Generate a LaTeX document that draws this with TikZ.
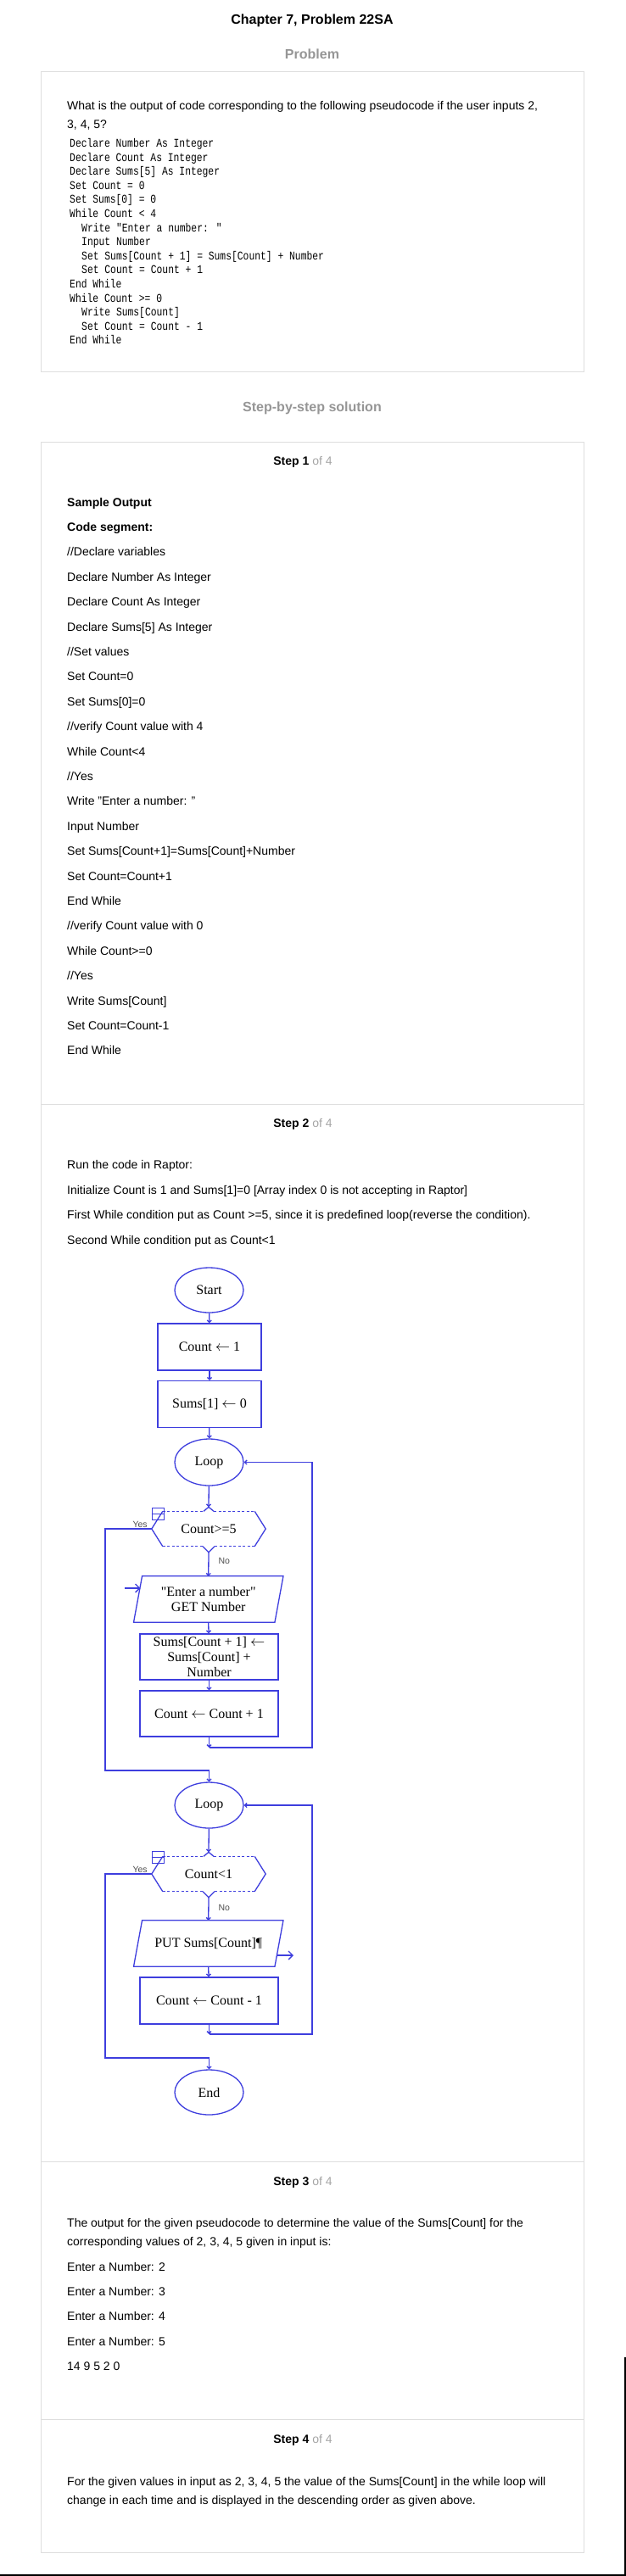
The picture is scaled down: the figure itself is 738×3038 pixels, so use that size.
\documentclass[tikz,border=0pt]{standalone}
\usepackage{fontspec}
\setmainfont{Liberation Sans}
\newfontfamily\codefont[FakeStretch=0.81]{Liberation Mono}
\newfontfamily\chartfont{Liberation Serif}
\usepackage{xcolor}
\usetikzlibrary{shapes.geometric,arrows.meta}
\definecolor{raptorblue}{RGB}{62,62,222}
\definecolor{framegray}{RGB}{222,222,222}
\definecolor{headgray}{RGB}{150,150,150}
\definecolor{ofgray}{RGB}{165,165,165}
\definecolor{labelgray}{RGB}{80,80,80}

\begin{document}
\begin{tikzpicture}[x=1pt,y=-1pt,
		txt/.style={anchor=base west,inner sep=0pt,font=\fontsize{14}{16}\selectfont},
		code/.style={anchor=base west,inner sep=0pt,font=\codefont\fontsize{14}{16}\selectfont},
		head/.style={anchor=base,inner sep=0pt,font=\bfseries\fontsize{16}{18}\selectfont},
		stephead/.style={anchor=base,inner sep=0pt,font=\fontsize{14}{16}\selectfont},
		term/.style={ellipse,draw=raptorblue,line width=1.3pt,minimum width=81pt,minimum height=53pt,inner sep=0pt,font=\chartfont\fontsize{16}{18}\selectfont},
		assign/.style={rectangle,draw=raptorblue,line width=1.3pt,minimum width=122pt,minimum height=55pt,inner sep=0pt,align=center,font=\chartfont\fontsize{16}{18}\selectfont},
		io/.style={rectangle,minimum width=166pt,minimum height=54pt,inner sep=0pt,align=center,font=\chartfont\fontsize{16}{18}\selectfont},
		test/.style={rectangle,minimum width=134pt,minimum height=41pt,inner sep=0pt,font=\chartfont\fontsize{16}{18}\selectfont},
		fold/.style={rectangle,draw=raptorblue,line width=1pt,minimum size=14pt,inner sep=0pt},
		yesno/.style={inner sep=1pt,text=labelgray,font=\fontsize{10.5}{12}\selectfont},
		flow/.style={draw=raptorblue,line width=1.3pt},
		flowdash/.style={draw=raptorblue,line width=0.9pt,dash pattern=on 3pt off 2.5pt},
		link/.style={flow,-{Straight Barb[length=2.5pt,width=5pt]}},
		bigarrow/.style={flow,-{Straight Barb[length=5pt,width=10pt]}},
		frame/.style={draw=framegray,line width=1pt}]
	\useasboundingbox (0,0) rectangle (738,3038);
	\fill[white] (0,0) rectangle (738,3038);
	%
	% problem
	\node[head] (title) at (368,28) {Chapter 7, Problem 22SA};
	\node[head,text=headgray] (probhead) at (368,69) {Problem};
	\draw[frame] (48,84) rectangle (688,438);
	\node[txt] (q1) at (79,129) {What is the output of code corresponding to the following pseudocode if the user inputs 2,};
	\node[txt] (q2) at (79,151) {3, 4, 5?};
	\node[code] (c1) at (82,173.5) {Declare Number As Integer};
	\node[code] (c2) at (82,190.1) {Declare Count As Integer};
	\node[code] (c3) at (82,206.7) {Declare Sums[5] As Integer};
	\node[code] (c4) at (82,223.3) {Set Count = 0};
	\node[code] (c5) at (82,239.9) {Set Sums[0] = 0};
	\node[code] (c6) at (82,256.5) {While Count < 4};
	\node[code] (c7) at (96,273.1) {Write "Enter a number: "};
	\node[code] (c8) at (96,289.7) {Input Number};
	\node[code] (c9) at (96,306.3) {Set Sums[Count + 1] = Sums[Count] + Number};
	\node[code] (c10) at (96,322.9) {Set Count = Count + 1};
	\node[code] (c11) at (82,339.5) {End While};
	\node[code] (c12) at (82,356.1) {While Count >= 0};
	\node[code] (c13) at (96,372.7) {Write Sums[Count]};
	\node[code] (c14) at (96,389.3) {Set Count = Count - 1};
	\node[code] (c15) at (82,405.9) {End While};
	%
	% solution frame
	\node[head,text=headgray] (sbs) at (368,485) {Step-by-step solution};
	\draw[frame] (48,521) rectangle (688,3010);
	\draw[frame] (48,1302) -- (688,1302);
	\draw[frame] (48,2549) -- (688,2549);
	\draw[frame] (48,2853) -- (688,2853);
	%
	% step 1
	\node[stephead] (s1head) at (357,548) {\textbf{Step 1} \textcolor{ofgray}{of 4}};
	\node[txt,font=\bfseries\fontsize{14}{16}\selectfont] (s1a) at (79,597) {Sample Output};
	\node[txt,font=\bfseries\fontsize{14}{16}\selectfont] (s1b) at (79,626.4) {Code segment:};
	\node[txt] (s1c) at (79,655.8) {//Declare variables};
	\node[txt] (s1d) at (79,685.2) {Declare Number As Integer};
	\node[txt] (s1e) at (79,714.6) {Declare Count As Integer};
	\node[txt] (s1f) at (79,744) {Declare Sums[5] As Integer};
	\node[txt] (s1g) at (79,773.4) {//Set values};
	\node[txt] (s1h) at (79,802.8) {Set Count=0};
	\node[txt] (s1i) at (79,832.2) {Set Sums[0]=0};
	\node[txt] (s1j) at (79,861.6) {//verify Count value with 4};
	\node[txt] (s1k) at (79,891) {While Count<4};
	\node[txt] (s1l) at (79,920.4) {//Yes};
	\node[txt] (s1m) at (79,949.8) {Write "Enter a number: "};
	\node[txt] (s1n) at (79,979.2) {Input Number};
	\node[txt] (s1o) at (79,1008.6) {Set Sums[Count+1]=Sums[Count]+Number};
	\node[txt] (s1p) at (79,1038) {Set Count=Count+1};
	\node[txt] (s1q) at (79,1067.4) {End While};
	\node[txt] (s1r) at (79,1096.8) {//verify Count value with 0};
	\node[txt] (s1s) at (79,1126.2) {While Count>=0};
	\node[txt] (s1t) at (79,1155.6) {//Yes};
	\node[txt] (s1u) at (79,1185) {Write Sums[Count]};
	\node[txt] (s1v) at (79,1214.4) {Set Count=Count-1};
	\node[txt] (s1w) at (79,1243.8) {End While};
	%
	% step 2
	\node[stephead] (s2head) at (357,1329) {\textbf{Step 2} \textcolor{ofgray}{of 4}};
	\node[txt] (s2a) at (79,1378) {Run the code in Raptor:};
	\node[txt] (s2b) at (79,1408) {Initialize Count is 1 and Sums[1]=0 [Array index 0 is not accepting in Raptor]};
	\node[txt] (s2c) at (79,1437) {First While condition put as Count >=5, since it is predefined loop(reverse the condition).};
	\node[txt] (s2d) at (79,1467) {Second While condition put as Count<1};
	%
	% flowchart
	\node[term] (start) at (246.5,1521.5) {Start};
	\node[assign] (init1) at (247,1588.5) {Count $\leftarrow$ 1};
	\node[assign] (init2) at (247,1656) {Sums[1] $\leftarrow$ 0};
	\node[term,minimum height=55pt] (loop1) at (246.5,1724.5) {Loop};
	\node[test] (test1) at (246,1803) {Count>=5};
	\node[fold] (fold1) at (186,1785) {};
	\node[io] (in1) at (245.75,1886) {"Enter a number"\\GET Number};
	\node[assign,minimum width=163pt,minimum height=54pt] (sum) at (246.5,1954) {Sums[Count + 1] $\leftarrow$\\Sums[Count] +\\Number};
	\node[assign,minimum width=163pt,minimum height=54pt] (inc) at (246.5,2021) {Count $\leftarrow$ Count + 1};
	\node[term,minimum height=54pt] (loop2) at (246.5,2129) {Loop};
	\node[test] (test2) at (246,2210) {Count<1};
	\node[fold] (fold2) at (186,2190) {};
	\node[io] (out1) at (245.75,2292) {PUT Sums[Count]¶};
	\node[assign,minimum width=163pt] (dec) at (246.5,2359.5) {Count $\leftarrow$ Count - 1};
	\node[term] (stop) at (246.5,2467.5) {End};
	%
	\coordinate (t1top) at ([yshift=5pt]test1.north);
	\coordinate (t1bot) at ([yshift=-7pt]test1.south);
	\coordinate (t2top) at ([yshift=5pt]test2.north);
	\coordinate (t2bot) at ([yshift=-7pt]test2.south);
	\coordinate (back1) at (246.5,2061);
	\coordinate (rail1) at (368,2061);
	\coordinate (back2) at (246.5,2399);
	\coordinate (rail2) at (368,2399);
	\coordinate (yes1) at (124,2088);
	\coordinate (yes2) at (124,2427);
	\coordinate (inarrow) at (147,1873);
	\coordinate (inedge) at (165.5,1873);
	\coordinate (outedge) at (325.5,2306);
	\coordinate (outarrow) at (346,2306);
	%
	% decision shapes
	\draw[flow,line join=round] ([xshift=13pt]test1.south west) -- (test1.west) -- ([xshift=13pt]test1.north west);
	\draw[flow,line join=round] ([xshift=-13pt]test1.north east) -- (test1.east) -- ([xshift=-13pt]test1.south east);
	\draw[flowdash] ([xshift=13pt]test1.north west) -- ([xshift=-6pt]test1.north);
	\draw[flowdash] ([xshift=6pt]test1.north) -- ([xshift=-13pt]test1.north east);
	\draw[flowdash] ([xshift=13pt]test1.south west) -- ([xshift=-7pt]test1.south);
	\draw[flowdash] ([xshift=7pt]test1.south) -- ([xshift=-13pt]test1.south east);
	\draw[flow] ([xshift=-6pt]test1.north) -- (t1top) -- ([xshift=6pt]test1.north);
	\draw[flow] ([xshift=-7pt]test1.south) -- (t1bot) -- ([xshift=7pt]test1.south);
	\draw[flow,line join=round] ([xshift=13pt]test2.south west) -- (test2.west) -- ([xshift=13pt]test2.north west);
	\draw[flow,line join=round] ([xshift=-13pt]test2.north east) -- (test2.east) -- ([xshift=-13pt]test2.south east);
	\draw[flowdash] ([xshift=13pt]test2.north west) -- ([xshift=-6pt]test2.north);
	\draw[flowdash] ([xshift=6pt]test2.north) -- ([xshift=-13pt]test2.north east);
	\draw[flowdash] ([xshift=13pt]test2.south west) -- ([xshift=-7pt]test2.south);
	\draw[flowdash] ([xshift=7pt]test2.south) -- ([xshift=-13pt]test2.south east);
	\draw[flow] ([xshift=-6pt]test2.north) -- (t2top) -- ([xshift=6pt]test2.north);
	\draw[flow] ([xshift=-7pt]test2.south) -- (t2bot) -- ([xshift=7pt]test2.south);
	\draw[raptorblue,line width=1pt] (fold1.west) -- (fold1.east);
	\draw[raptorblue,line width=1pt] (fold2.west) -- (fold2.east);
	% input and output shapes
	\draw[flow] ([xshift=5pt]in1.north west) -- ([xshift=5pt]in1.north east) -- ([xshift=-5pt]in1.south east) -- ([xshift=-5pt]in1.south west) -- cycle;
	\draw[flow] ([xshift=5pt]out1.north west) -- ([xshift=5pt]out1.north east) -- ([xshift=-5pt]out1.south east) -- ([xshift=-5pt]out1.south west) -- cycle;
	%
	% straight connectors
	\draw[link] (start) -- (init1);
	\draw[link] (init1) -- (init2);
	\draw[link] (init2) -- (loop1);
	\draw[link] (loop1) -- (t1top);
	\draw[link] (t1bot) -- node[yesno,pos=0.35,anchor=west,xshift=10pt]{No} (in1.north);
	\draw[link] (in1.south) -- (sum);
	\draw[link] (sum) -- (inc);
	\draw[link] (loop2) -- (t2top);
	\draw[link] (t2bot) -- node[yesno,pos=0.45,anchor=west,xshift=10pt]{No} (out1.north);
	\draw[link] (out1.south) -- (dec);
	\draw[bigarrow] (inarrow) -- (inedge);
	\draw[bigarrow] (outedge) -- (outarrow);
	% loop back
	\draw[link] (inc) -- (back1);
	\draw[link] (back1) -- (rail1) |- (loop1.east);
	\draw[link] (dec) -- (back2);
	\draw[link] (back2) -- (rail2) |- (loop2.east);
	% exits
	\draw[link] (test1.west) -- node[yesno,pos=0.25,above]{Yes} (test1.west -| yes1) -- (yes1) -| (loop2.north);
	\draw[link] (test2.west) -- node[yesno,pos=0.25,above]{Yes} (test2.west -| yes2) -- (yes2) -| (stop.north);
	%
	% step 3
	\node[stephead] (s3head) at (357,2577) {\textbf{Step 3} \textcolor{ofgray}{of 4}};
	\node[txt] (s3a) at (79,2626) {The output for the given pseudocode to determine the value of the Sums[Count] for the};
	\node[txt] (s3b) at (79,2648) {corresponding values of 2, 3, 4, 5 given in input is:};
	\node[txt] (s3c) at (79,2678) {Enter a Number: 2};
	\node[txt] (s3d) at (79,2707) {Enter a Number: 3};
	\node[txt] (s3e) at (79,2736) {Enter a Number: 4};
	\node[txt] (s3f) at (79,2766) {Enter a Number: 5};
	\node[txt] (s3g) at (79,2795) {14 9 5 2 0};
	%
	% step 4
	\node[stephead] (s4head) at (357,2881) {\textbf{Step 4} \textcolor{ofgray}{of 4}};
	\node[txt] (s4a) at (79,2931) {For the given values in input as 2, 3, 4, 5 the value of the Sums[Count] in the while loop will};
	\node[txt] (s4b) at (79,2953) {change in each time and is displayed in the descending order as given above.};
	%
	\draw[black,line width=2pt] (737,2780) -- (737,3037) -- (0,3037);
\end{tikzpicture}
\end{document}
